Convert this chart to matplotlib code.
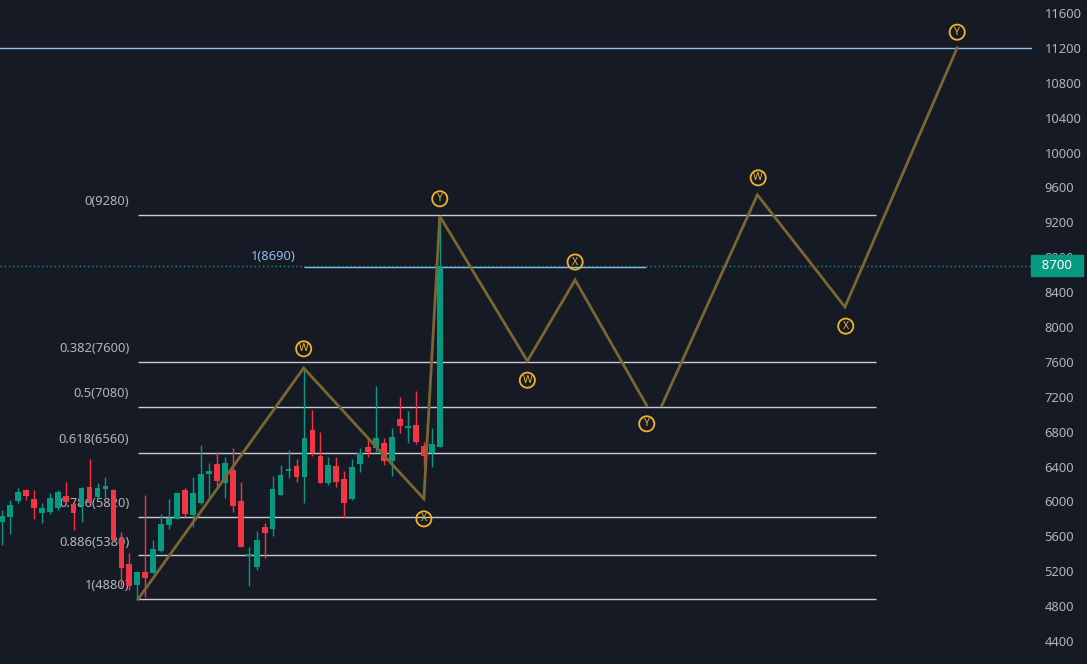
import numpy as np
import matplotlib
matplotlib.use("Agg")
import matplotlib.pyplot as plt
import matplotlib.transforms as mtransforms

plt.rcParams["font.family"] = ["Noto Sans", "DejaVu Sans"]

# candles (one per bar index)
opens = [5764, 5822, 6005, 6131, 6028, 5867, 5879, 5925, 6062, 5971, 5948, 6166, 6051, 6143,
         6131, 5581, 5283, 5042, 5191, 5180, 5432, 5730, 5799, 6131, 5845, 5982, 6315, 6429,
         6211, 6361, 6005, 5374, 5248, 5707, 5684, 6074, 6349, 6406, 6280, 6819, 6521, 6211,
         6406, 6257, 6028, 6429, 6624, 6613, 6670, 6464, 6945, 6842, 6876, 6636, 6555, 6624]
highs = [5902, 6017, 6154, 6143, 6131, 5982, 6097, 6131, 6223, 5994, 6166, 6486, 6211, 6280,
         6143, 5650, 5409, 5191, 6074, 5558, 5856, 6028, 6108, 6154, 6280, 6647, 6441, 6567,
         6509, 6613, 6223, 5478, 5661, 5753, 6292, 6418, 6590, 6486, 7518, 7048, 6796, 6509,
         6509, 6349, 6486, 6613, 6727, 7324, 6727, 6842, 7197, 7037, 7266, 6682, 6842, 9250]
lows = [5501, 5627, 5982, 6017, 5799, 5753, 5856, 5902, 5982, 5673, 5764, 5982, 6028, 6051,
        5535, 5019, 4985, 4870, 4904, 5180, 5420, 5684, 5799, 5822, 5707, 5971, 6051, 6177,
        6039, 5879, 5478, 5031, 5214, 5351, 5604, 6074, 6269, 6223, 5982, 6521, 6211, 6188,
        6166, 5810, 6017, 6338, 6509, 6567, 6418, 6292, 6785, 6670, 6658, 6395, 6395, 6624]
closes = [5833, 5959, 6108, 6062, 5925, 5925, 6039, 6108, 5994, 5867, 6154, 5982, 6154, 6177,
          5558, 5237, 5031, 5191, 5122, 5455, 5741, 5810, 6097, 5856, 6097, 6315, 6349, 6234,
          6441, 5948, 5478, 5397, 5558, 5638, 6143, 6303, 6372, 6280, 6727, 6555, 6211, 6418,
          6223, 5982, 6395, 6555, 6567, 6727, 6464, 6739, 6865, 6853, 6682, 6521, 6659, 8700]

# fibonacci retracement
fib_ratios = ["0", "0.382", "0.5", "0.618", "0.786", "0.886", "1"]
fib_prices = [9280, 7600, 7080, 6560, 5820, 5380, 4880]
fib_x = (17.1, 109.8)

# projected wave path (bar index, price) and labels
wave_a_x = [17.1, 37.9, 53.0, 55.0, 66.0, 72.0, 81.0]
wave_a_y = [4880, 7530, 6030, 9270, 7610, 8540, 7100]
wave_b_x = [82.9, 94.9, 105.9, 120.0]
wave_b_y = [7100, 9515, 8230, 11200]
label_text = ["W", "X", "Y", "W", "X", "Y", "W", "X", "Y"]
label_x = [37.9, 53.0, 55.0, 66.0, 72.0, 81.0, 95.0, 106.0, 120.0]
label_y = [7750, 5800, 9470, 7390, 8745, 6890, 9710, 8010, 11380]

last_price = 8700
target_price = 11200
ticks = list(range(4400, 11601, 400))

bg = "#161a25"
up, down = "#089981", "#f23645"
txt = "#b2b5be"

fig = plt.figure(figsize=(10.87, 6.64), dpi=100, facecolor=bg)
ax = fig.add_axes([0, 0, 1032 / 1087, 1])
ax.set_facecolor(bg)
ax.set_xlim(-0.25, 129.4)
ax.set_ylim(4136, 11749)
for s in ax.spines.values():
    s.set_visible(False)
ax.set_xticks([])
ax.yaxis.tick_right()
ax.set_yticks(ticks)
ax.set_yticklabels([str(t) for t in ticks])
ax.tick_params(axis="y", length=0, pad=9, labelsize=9.3, labelcolor=txt)

# fib levels
for r, p in zip(fib_ratios, fib_prices):
    ax.hlines(p, fib_x[0], fib_x[1], color="#c9cbd1", lw=1, zorder=1)
    ax.annotate(f"{r}({p})", (16.0, p), xytext=(0, 5), textcoords="offset points",
                ha="right", va="bottom", color=txt, fontsize=9.3, zorder=1)
ax.hlines(8690, 37.9, 80.9, color="#8fbcf0", lw=1, zorder=1)
ax.annotate("1(8690)", (36.9, 8690), xytext=(0, 3), textcoords="offset points",
            ha="right", va="bottom", color="#8fbcf0", fontsize=9.3, zorder=1)

# target and last price lines
ax.axhline(target_price, color="#8fbcf0", lw=1, zorder=1)
ax.axhline(last_price, color=up, lw=1, ls=(0, (1, 2)), zorder=1)

# candles
idx = np.arange(len(opens))
for i, o, h, l, c in zip(idx, opens, highs, lows, closes):
    col = up if c >= o else down
    ax.vlines(i, l, h, color=col, lw=1, zorder=3)
    ax.bar(i, max(abs(c - o), 20), bottom=min(o, c), width=0.72, color=col, zorder=3)

# wave path
ax.plot(wave_a_x, wave_a_y, color="#7a6830", lw=2, zorder=4, solid_joinstyle="miter")
ax.plot(wave_b_x, wave_b_y, color="#7a6830", lw=2, zorder=4, solid_joinstyle="miter")
for t, x, y in zip(label_text, label_x, label_y):
    ax.text(x, y, t, ha="center", va="center", color="#f0b429", fontsize=7.5,
            fontweight="bold", zorder=5,
            bbox=dict(boxstyle="circle,pad=0.2", fc="none", ec="#f0b429", lw=1.3))

# last price tag
trans = mtransforms.blended_transform_factory(ax.transAxes, ax.transData)
ax.text(1.0 + 3 / 1032, last_price, "  8700  ", transform=trans, ha="left", va="center",
        color="white", fontsize=9.5, fontweight="bold", clip_on=False, zorder=6,
        bbox=dict(boxstyle="square,pad=0.3", fc=up, ec=up))

fig.savefig("out.png", dpi=100, facecolor=bg)
